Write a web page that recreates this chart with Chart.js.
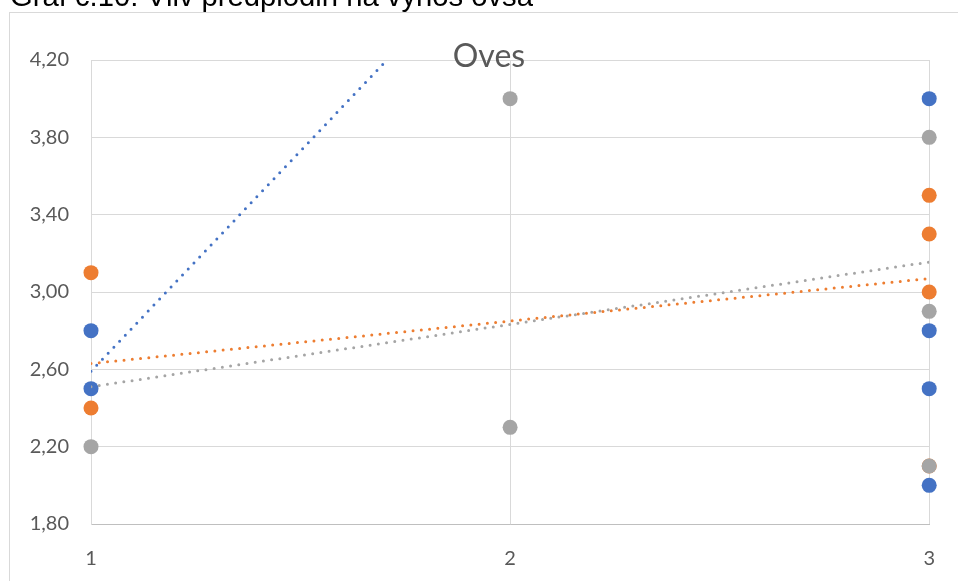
<!DOCTYPE html>
<html>
<head>
<meta charset="utf-8">
<script src="https://cdn.jsdelivr.net/npm/chart.js@4"></script>
<style>
  html, body { margin: 0; padding: 0; background: #fff; overflow: hidden; }
  #wrap { position: absolute; left: 0; top: 0; width: 958px; height: 581px; }
</style>
</head>
<body>
<div id="wrap"><canvas id="c" width="958" height="581"></canvas></div>
<script>
// ---- data ----
const pageTitle = "Graf č.10: Vliv předplodin na výnos ovsa";
const chartTitle = "Oves";
const yTicksMin = 1.8, yTicksMax = 4.2, yTickStep = 0.4;
const xTicksMin = 1, xTicksMax = 3;

const blueX = [1, 1, 3, 3, 3, 3];
const blueY = [2.80, 2.50, 4.00, 2.80, 2.50, 2.00];
const orangeX = [1, 1, 3, 3, 3, 3];
const orangeY = [3.10, 2.40, 3.50, 3.30, 3.00, 2.10];
const grayX = [1, 2, 2, 3, 3, 3];
const grayY = [2.20, 4.00, 2.30, 3.80, 2.90, 2.10];

// linear trendlines (endpoints at x = 1 and x = 3)
const trendX = [1, 3];
const blueTrend = [2.59, 7.15];
const orangeTrend = [2.63, 3.07];
const grayTrend = [2.51, 3.155];

const BLUE = '#4472C4', ORANGE = '#ED7D31', GRAY = '#A5A5A5';
const pts = (xs, ys) => xs.map((x, i) => ({ x: x, y: ys[i] }));

function scatterSet(label, xs, ys, color, order) {
  return {
    type: 'scatter', label, data: pts(xs, ys), order,
    backgroundColor: color, borderColor: color, borderWidth: 0,
    pointRadius: 7.5, pointHoverRadius: 7.5, clip: false
  };
}
function trendSet(label, ys, color) {
  return {
    type: 'line', label, data: pts(trendX, ys), order: 0,
    borderColor: color, borderWidth: 3, borderDash: [0, 8.3],
    borderCapStyle: 'round', pointRadius: 0, fill: false, tension: 0
  };
}

const frame = {
  id: 'frame',
  beforeDraw(chart) {
    const ctx = chart.ctx;
    ctx.save();
    ctx.fillStyle = '#fff';
    ctx.fillRect(0, 0, chart.width, chart.height);
    ctx.strokeStyle = '#D9D9D9';
    ctx.lineWidth = 1;
    ctx.strokeRect(9.5, 12.5, 1200, 1200);
    ctx.restore();
  },
  afterDraw(chart) {
    const ctx = chart.ctx;
    ctx.save();
    // page heading (cut off at the top)
    let fs = 24;
    ctx.font = fs + 'px "Liberation Sans", Arial, sans-serif';
    const w = ctx.measureText(pageTitle).width;
    fs = fs * 523 / w;
    ctx.font = fs + 'px "Liberation Sans", Arial, sans-serif';
    ctx.fillStyle = '#000';
    ctx.textBaseline = 'alphabetic';
    ctx.textAlign = 'left';
    ctx.fillText(pageTitle, 10, 6);
    // chart title
    ctx.font = '32px Lato, "Open Sans", sans-serif';
    ctx.fillStyle = '#595959';
    ctx.textAlign = 'center';
    ctx.fillText(chartTitle, 489, 67);
    ctx.restore();
  }
};

new Chart(document.getElementById('c'), {
  data: {
    datasets: [
      trendSet('blueTrend', blueTrend, BLUE),
      trendSet('orangeTrend', orangeTrend, ORANGE),
      trendSet('grayTrend', grayTrend, GRAY),
      scatterSet('Řada1', blueX, blueY, BLUE, 3),
      scatterSet('Řada2', orangeX, orangeY, ORANGE, 2),
      scatterSet('Řada3', grayX, grayY, GRAY, 1)
    ]
  },
  options: {
    responsive: false,
    animation: false,
    events: [],
    layout: { padding: { left: 0, top: 60, right: 24, bottom: 0 } },
    plugins: { legend: { display: false }, title: { display: false }, tooltip: { enabled: false } },
    scales: {
      x: {
        type: 'linear', min: xTicksMin, max: xTicksMax,
        afterFit(s) { s.height = 57; },
        ticks: { stepSize: 1, padding: 23, color: '#595959',
                 font: { family: 'Lato', size: 20 } },
        grid: { color: '#D9D9D9', lineWidth: 1, drawTicks: false },
        border: { color: '#BFBFBF', width: 1 }
      },
      y: {
        type: 'linear', min: yTicksMin, max: yTicksMax,
        afterFit(s) { s.width = 91; },
        ticks: { stepSize: yTickStep, padding: 22, color: '#595959',
                 font: { family: 'Lato', size: 20 },
                 callback: v => v.toFixed(2).replace('.', ',') },
        grid: { color: '#D9D9D9', lineWidth: 1, drawTicks: false },
        border: { color: '#D9D9D9', width: 1 }
      }
    }
  },
  plugins: [frame]
});
</script>
</body>
</html>
